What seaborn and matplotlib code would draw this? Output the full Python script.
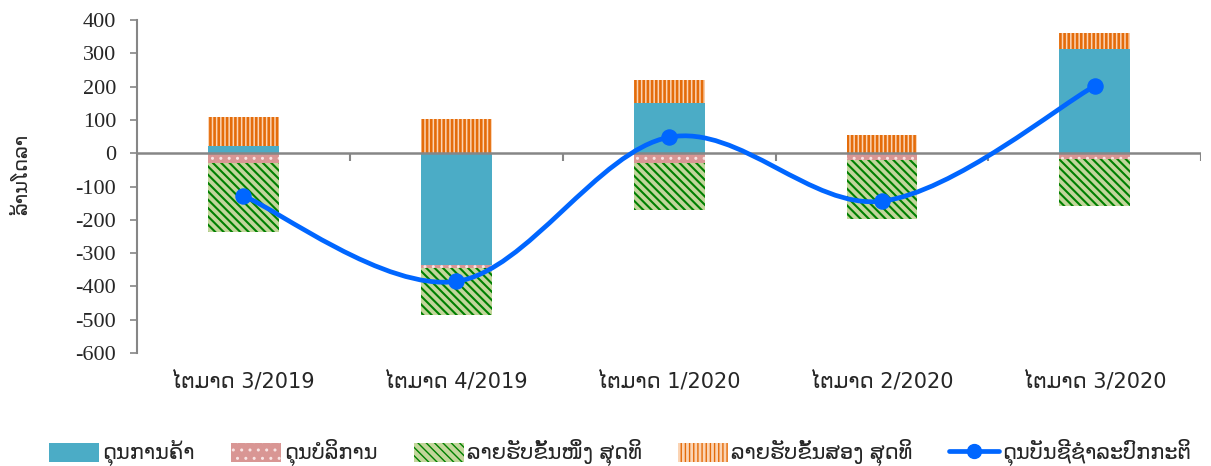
import numpy as np
import pandas as pd
import seaborn as sns
import matplotlib
matplotlib.use("Agg")
import matplotlib.pyplot as plt
from matplotlib.path import Path
from matplotlib.patches import PathPatch, Patch
from matplotlib.lines import Line2D

# data (million USD)
quarters = ["ໄຕມາດ 3/2019", "ໄຕມາດ 4/2019", "ໄຕມາດ 1/2020", "ໄຕມາດ 2/2020", "ໄຕມາດ 3/2020"]
goods = [22, -336, 152, -2, 312]
services = [-30, -10, -28, -19, -17]
primary = [-207, -140, -143, -177, -142]
secondary = [87, 104, 67, 54, 49]
current = [-128, -385, 48, -144, 202]

labels = ["ດຸນການຄ້າ", "ດຸນບໍລິການ", "ລາຍຮັບຂັ້ນໜຶ່ງ ສຸດທິ", "ລາຍຮັບຂັ້ນສອງ ສຸດທິ", "ດຸນບັນຊີຊໍາລະປົກກະຕິ"]
y_ticks = list(range(-600, 401, 100))

sns.set_style("white")
plt.rcParams["font.family"] = ["Liberation Serif", "DejaVu Sans"]
lao_font = ["DejaVu Sans"]

df = pd.DataFrame({"quarter": quarters, "goods": goods, "services": services,
                   "primary": primary, "secondary": secondary, "current": current})

# excel style stacking: positives go up, negatives go down
pos = np.zeros(len(df))
neg = np.zeros(len(df))
bottoms = {}
for col in ["goods", "services", "primary", "secondary"]:
    v = df[col].to_numpy(dtype=float)
    bottoms[col] = np.where(v >= 0, pos, neg)
    pos = np.where(v >= 0, pos + v, pos)
    neg = np.where(v < 0, neg + v, neg)

styles = {
    "goods": dict(color="#4BACC6", edgecolor="#4BACC6", hatch=None, hlw=1.0),
    "services": dict(color="#D99694", edgecolor="#F8E4E4", hatch="..", hlw=1.0),
    "primary": dict(color="#C3D69B", edgecolor="#008000", hatch="\\\\\\\\", hlw=1.5),
    "secondary": dict(color="#FBD4B4", edgecolor="#E46C0A", hatch="||||", hlw=1.9),
}

fig = plt.figure(figsize=(12.11, 4.66), dpi=100)
ax = fig.add_axes([0.113, 0.2425, 0.879, 0.7145])

for col in ["goods", "services", "primary", "secondary"]:
    st = styles[col]
    kw = dict(hatch=st["hatch"]) if st["hatch"] else {}
    with plt.rc_context({"hatch.linewidth": st["hlw"]}):
        sns.barplot(data=df, x="quarter", y=col, order=quarters, bottom=bottoms[col],
                    color=st["color"], edgecolor=st["edgecolor"], linewidth=0,
                    saturation=1, width=0.333, errorbar=None, ax=ax, zorder=2, **kw)

# smoothed current account line (catmull-rom as bezier, like excel)
xs = np.arange(len(current), dtype=float)
ys = np.array(current, dtype=float)
pts = np.column_stack([xs, ys])
verts = [pts[0]]
codes = [Path.MOVETO]
for i in range(len(pts) - 1):
    p0 = pts[max(i - 1, 0)]
    p1 = pts[i]
    p2 = pts[i + 1]
    p3 = pts[min(i + 2, len(pts) - 1)]
    verts += [p1 + (p2 - p0) / 6, p2 - (p3 - p1) / 6, p2]
    codes += [Path.CURVE4] * 3
ax.add_patch(PathPatch(Path(verts, codes), facecolor="none", edgecolor="#0066FF",
                       lw=3.4, capstyle="round", zorder=4))
sns.scatterplot(x=xs, y=ys, s=120, color="#0066FF", edgecolor="#0066FF", ax=ax, zorder=5)

# axes look
ax.set_xlim(-0.5, len(quarters) - 0.5)
ax.set_ylim(-600, 400)
ax.set_yticks(y_ticks)
ax.set_yticklabels([str(t) for t in y_ticks], fontsize=16)
ax.set_xticks(xs)
ax.set_xticklabels(quarters, fontsize=15, family=lao_font)
ax.tick_params(axis="x", length=0, pad=13)
ax.tick_params(axis="y", length=5, width=1.2, color="#868686", pad=10, left=True)
for s in ["top", "right", "bottom"]:
    ax.spines[s].set_visible(False)
ax.spines["left"].set_color("#868686")
ax.spines["left"].set_linewidth(1.5)
ax.axhline(0, color="#868686", lw=1.8, zorder=3)
ax.vlines(np.arange(-0.5, len(quarters)), -24, 0, color="#868686", lw=1.5, zorder=3)
ax.set_xlabel("")
ax.set_ylabel("ລ້ານໂດລາ", fontsize=14, family=lao_font)
ax.yaxis.set_label_coords(-0.099, 0.535)

handles = []
for c in ["goods", "services", "primary", "secondary"]:
    with plt.rc_context({"hatch.linewidth": styles[c]["hlw"]}):
        handles.append(Patch(facecolor=styles[c]["color"], edgecolor=styles[c]["edgecolor"],
                             hatch=styles[c]["hatch"], lw=0))
handles.append(Line2D([0], [0], color="#0066FF", lw=3.4, marker="o", markersize=10))
fig.legend(handles, labels, loc="center", bbox_to_anchor=(0.512, 0.028), ncol=5,
           frameon=False, prop={"family": lao_font, "size": 15}, handlelength=2.4,
           handleheight=1.0, handletextpad=0.15, columnspacing=1.75)

fig.savefig("out.png", dpi=100)
